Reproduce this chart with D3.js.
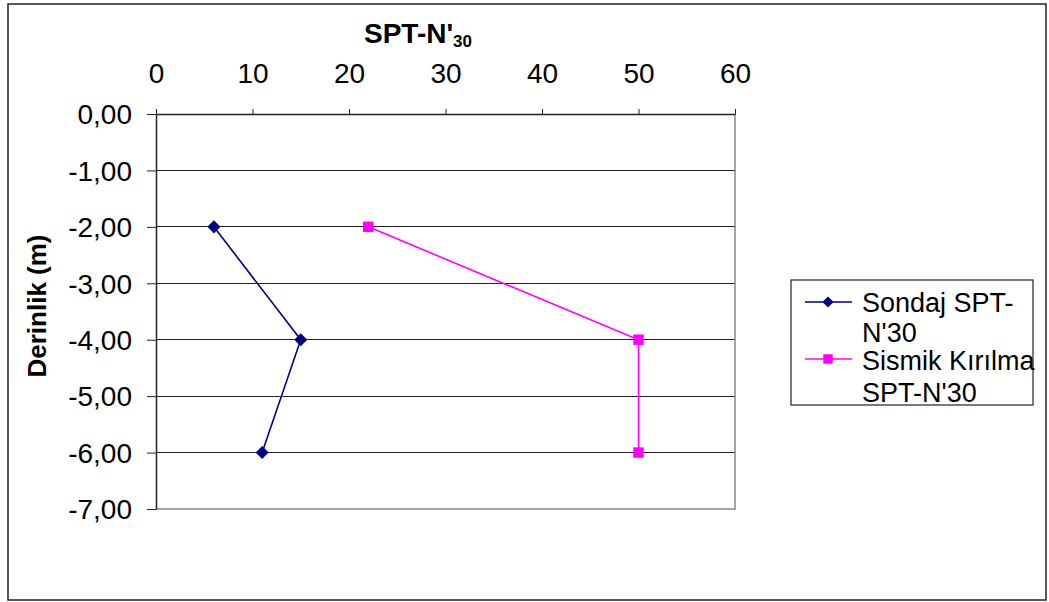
<!DOCTYPE html>
<html>
<head>
<meta charset="utf-8">
<script src="https://cdn.jsdelivr.net/npm/d3@7"></script>
<style>
  body { margin: 0; background: #fff; }
  svg text { font-family: Arial, "Liberation Sans", sans-serif; fill: #000; }
</style>
</head>
<body>
<svg id="chart" width="1049" height="602"></svg>
<script>
// ---- data ----
const depths = [-2, -4, -6];
const sondaj = [6, 15, 11];
const sismik = [22, 50, 50];
const xTicks = [0, 10, 20, 30, 40, 50, 60];
const yTicks = [0, -1, -2, -3, -4, -5, -6, -7];
const seriesNames = [["Sondaj SPT-", "N'30"], ["Sismik Kırılma", "SPT-N'30"]];
const seriesColors = ["#000080", "#FF00FF"];

const svg = d3.select("#chart");
const L = 156, R = 735, T = 114, B = 509;

const x = d3.scaleLinear().domain([0, 60]).range([L, R]);
const y = d3.scaleLinear().domain([0, -7]).range([T, B]);

// outer border
svg.append("rect").attr("x", 8).attr("y", 4).attr("width", 1038).attr("height", 596)
  .attr("fill", "none").attr("stroke", "#222").attr("stroke-width", 1.5);

// gridlines
svg.append("g").selectAll("line").data(yTicks.filter(d => d !== 0 && d !== -7)).join("line")
  .attr("x1", L).attr("x2", R).attr("y1", d => y(d)).attr("y2", d => y(d))
  .attr("stroke", "#222").attr("stroke-width", 1).attr("shape-rendering", "crispEdges");

// plot frame right/bottom
svg.append("path").attr("d", `M${R},${T}V${B}H${L}`).attr("fill", "none")
  .attr("stroke", "#888").attr("stroke-width", 1.5);

// x axis (top)
const xa = svg.append("g").attr("transform", `translate(0,${T})`)
  .call(d3.axisTop(x).tickValues(xTicks).tickSize(5).tickSizeOuter(0).tickPadding(26).tickFormat(d3.format("d")));
// y axis (left)
const ya = svg.append("g").attr("transform", `translate(${L},0)`)
  .call(d3.axisLeft(y).tickValues(yTicks).tickSize(9).tickSizeOuter(0).tickPadding(15)
    .tickFormat(d => d3.format(".2f")(d).replace(".", ",").replace("−", "-")));
[xa, ya].forEach(a => {
  a.selectAll("path.domain").attr("stroke", "#222").attr("stroke-width", 1.5);
  a.selectAll(".tick line").attr("stroke", "#222");
  a.selectAll(".tick text").attr("font-size", 28).attr("font-family", "Arial, 'Liberation Sans', sans-serif").attr("fill", "#000");
});
ya.selectAll(".tick text").attr("dy", "0.35em");

// titles
const title = svg.append("text").attr("x", 418).attr("y", 43).attr("text-anchor", "middle")
  .attr("font-weight", "bold").attr("font-size", 28);
title.append("tspan").text("SPT-N'");
title.append("tspan").attr("font-size", 17).attr("dy", 4).text("30");

svg.append("text").attr("transform", "translate(46,306) rotate(-90)").attr("text-anchor", "middle")
  .attr("font-weight", "bold").attr("font-size", 26).text("Derinlik (m)");

// series
const line = d3.line().x(d => x(d[0])).y(d => y(d[1]));
const data1 = sondaj.map((v, i) => [v, depths[i]]);
const data2 = sismik.map((v, i) => [v, depths[i]]);

svg.append("path").datum(data1).attr("d", line).attr("fill", "none")
  .attr("stroke", seriesColors[0]).attr("stroke-width", 1.6);
svg.append("path").datum(data2).attr("d", line).attr("fill", "none")
  .attr("stroke", seriesColors[1]).attr("stroke-width", 1.6);

svg.append("g").selectAll("path").data(data1).join("path")
  .attr("transform", d => `translate(${x(d[0])},${y(d[1])}) rotate(45)`)
  .attr("d", d3.symbol().type(d3.symbolSquare).size(85)).attr("fill", seriesColors[0]);
svg.append("g").selectAll("path").data(data2).join("path")
  .attr("transform", d => `translate(${x(d[0])},${y(d[1])})`)
  .attr("d", d3.symbol().type(d3.symbolSquare).size(110)).attr("fill", seriesColors[1]);

// legend
svg.append("rect").attr("x", 791).attr("y", 280).attr("width", 242).attr("height", 125)
  .attr("fill", "#fff").attr("stroke", "#222").attr("stroke-width", 1.2);
const legY = [[312, 342], [370, 402]];
const legLineY = [302, 359];
seriesNames.forEach((nm, i) => {
  svg.append("line").attr("x1", 805).attr("x2", 852).attr("y1", legLineY[i]).attr("y2", legLineY[i])
    .attr("stroke", seriesColors[i]).attr("stroke-width", 1.6);
  if (i === 0) {
    svg.append("path").attr("transform", `translate(828,${legLineY[i]}) rotate(45)`)
      .attr("d", d3.symbol().type(d3.symbolSquare).size(60)).attr("fill", seriesColors[i]);
  } else {
    svg.append("path").attr("transform", `translate(828,${legLineY[i]})`)
      .attr("d", d3.symbol().type(d3.symbolSquare).size(90)).attr("fill", seriesColors[i]);
  }
  nm.forEach((s, j) => {
    svg.append("text").attr("x", 862).attr("y", legY[i][j]).attr("font-size", 27).text(s);
  });
});
</script>
</body>
</html>
